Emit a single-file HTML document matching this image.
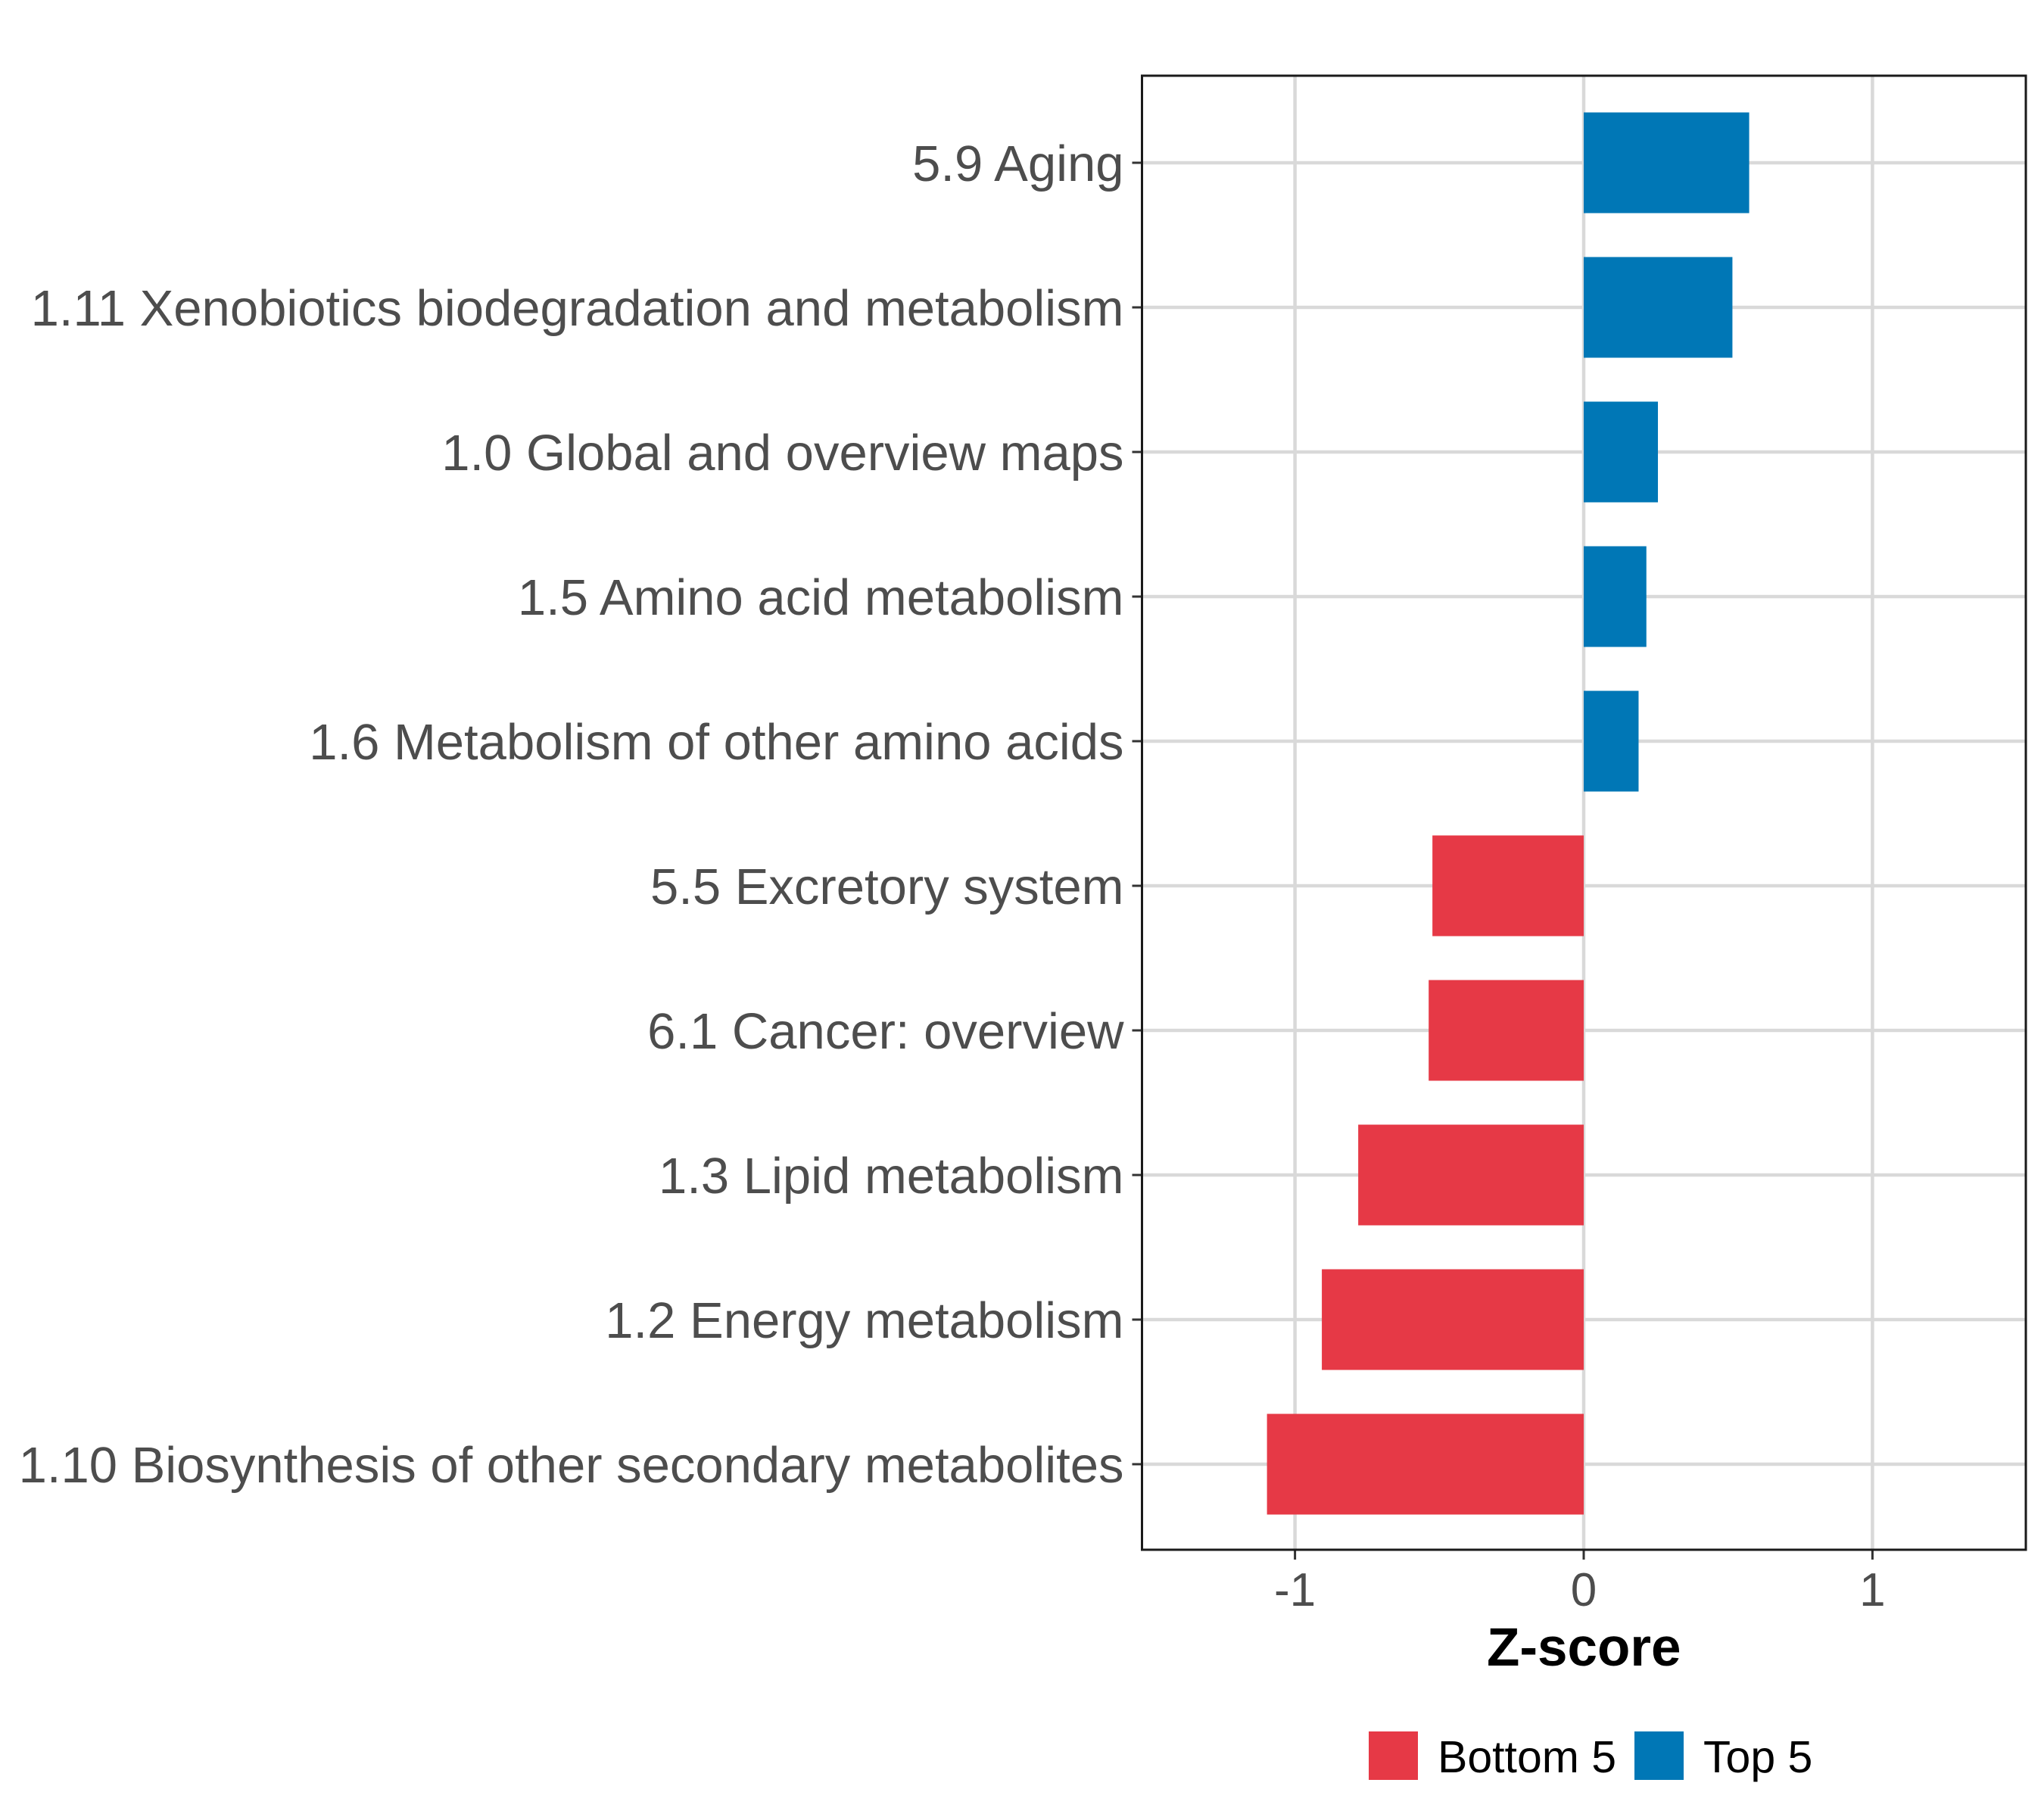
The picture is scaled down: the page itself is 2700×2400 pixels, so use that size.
<!DOCTYPE html>
<html><head><meta charset="utf-8"><style>
html,body{margin:0;padding:0;background:#fff;}
svg{display:block;font-family:"Liberation Sans",Arial,sans-serif;}
</style></head><body>
<svg id="chart" width="2700" height="2400" viewBox="0 0 2700 2400" xmlns="http://www.w3.org/2000/svg">
<rect width="2700" height="2400" fill="#fff"/>
<g id="grid"></g><g id="bars"></g><g id="axes"></g><g id="legend"></g>
</svg>
<script>
const categories = ["5.9 Aging","1.11 Xenobiotics biodegradation and metabolism","1.0 Global and overview maps","1.5 Amino acid metabolism","1.6 Metabolism of other amino acids","5.5 Excretory system","6.1 Cancer: overview","1.3 Lipid metabolism","1.2 Energy metabolism","1.10 Biosynthesis of other secondary metabolites"];
const zscores = [0.573,0.515,0.257,0.217,0.19,-0.524,-0.537,-0.781,-0.907,-1.097];
const groups = ["Top 5","Top 5","Top 5","Top 5","Top 5","Bottom 5","Bottom 5","Bottom 5","Bottom 5","Bottom 5"];
const xTicks = [-1,0,1];
const xTickLabels = ["-1","0","1"];
const legendLabels = ["Bottom 5","Top 5"];

const NS="http://www.w3.org/2000/svg";
const colors={"Bottom 5":"#E63946","Top 5":"#0077B6"};
const pL=1508.5,pR=2676,pT=100,pB=2047;
const x0=2092,xUnit=381.4;
const xs=v=>x0+v*xUnit;
const rowStep=191,row0=215;
const ys=i=>row0+i*rowStep;
const barH=133;
function mk(tag,attrs,parent){const e=document.createElementNS(NS,tag);for(const k in attrs)e.setAttribute(k,attrs[k]);parent.appendChild(e);return e;}
const grid=document.getElementById('grid'),bars=document.getElementById('bars'),axes=document.getElementById('axes'),legend=document.getElementById('legend');

xTicks.forEach((t,i)=>{
  const l=mk('line',{x1:xs(t),x2:xs(t),y1:pT,y2:pB,stroke:'#d9d9d9','stroke-width':4.5},grid);
  
  
  const tk=mk('line',{x1:xs(t),x2:xs(t),y1:pB,y2:pB+13,stroke:'#333','stroke-width':3},axes);
  
  
  const tx=mk('text',{x:xs(t),y:pB+74,'text-anchor':'middle','font-size':62,fill:'#4d4d4d'},axes);
  tx.textContent=xTickLabels[i];
  
  
});
categories.forEach((c,i)=>{
  const y=ys(i);
  const g=mk('line',{x1:pL,x2:pR,y1:y,y2:y,stroke:'#d9d9d9','stroke-width':4.5},grid);
  
  
  const v=zscores[i];
  const r=mk('rect',{x:Math.min(xs(0),xs(v)),y:y-barH/2,width:Math.abs(xs(v)-xs(0)),height:barH,fill:colors[groups[i]]},bars);
  
  
  const tk=mk('line',{x1:pL-13,x2:pL,y1:y,y2:y,stroke:'#333','stroke-width':3},axes);
  
  
  const tx=mk('text',{x:pL-24,y:y+24,'text-anchor':'end','font-size':67,fill:'#4d4d4d'},axes);
  tx.textContent=c;
  
  
});
const fr=mk('rect',{x:pL,y:pT,width:pR-pL,height:pB-pT,fill:'none',stroke:'#1a1a1a','stroke-width':3},axes);


const title=mk('text',{x:(pL+pR)/2,y:2200,'text-anchor':'middle','font-size':71,'font-weight':'bold',fill:'#000'},axes);
title.textContent='Z-score';


const lx=[1808,2159];
legendLabels.forEach((lab,i)=>{
  const s=mk('rect',{x:lx[i],y:2287,width:65,height:64,fill:colors[lab]},legend);
  
  
  const t=mk('text',{x:lx[i]+91,y:2341,'font-size':59,fill:'#000'},legend);
  t.textContent=lab;
  
  
});
</script>
</body></html>
